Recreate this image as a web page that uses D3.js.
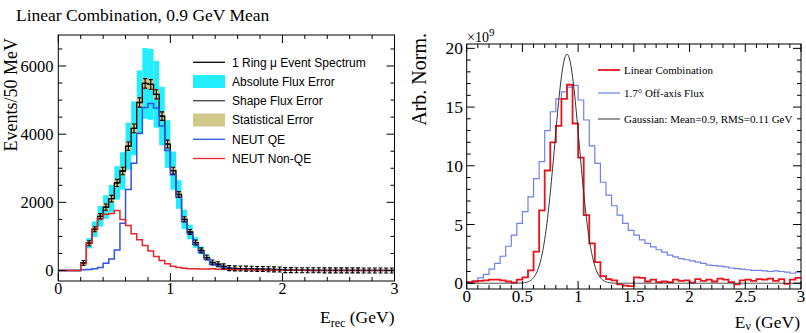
<!DOCTYPE html>
<html><head><meta charset="utf-8">
<script src="https://cdn.jsdelivr.net/npm/d3@7/dist/d3.min.js"></script>
<style>body{margin:0;background:#fff}svg{display:block}</style>
</head><body>
<svg id="c" width="806" height="333"></svg>
<script>
// ---------------- DATA ----------------
const binWidth = 0.05; // GeV, 60 bins from 0 to 3 GeV

// Left panel: Events / 50 MeV
const spectrum = [0,0,0,0,220,800,1210,1590,1860,2110,2570,2920,3650,4170,4930,5490,5460,5170,4530,3710,
  2930,2230,1500,1130,820,590,380,235,185,120,70,62,58,55,50,46,42,38,34,30,
  12,10,9,8,7,6,6,5,5,4,4,3,3,3,2,2,2,2,1,1];
const neutNonQE = [0,0,0,0,200,800,1205,1520,1650,1670,1760,1500,1320,1080,900,735,570,410,295,195,
  125,85,65,55,50,45,45,50,40,35,30,25,20,20,15,15,12,10,10,8,
  5,5,4,4,3,3,3,2,2,2,2,1,1,1,1,1,1,0,0,0];
const neutQE = [0,0,0,0,20,30,50,90,210,340,600,1390,2380,3150,4030,4780,4900,4770,4240,3520,
  2810,2150,1440,1080,770,545,335,185,145,85,40,37,38,35,35,31,30,28,24,22,
  7,5,5,4,4,3,3,3,3,2,2,2,2,2,1,1,1,1,1,1];
const absFluxErr = [0,0,0,0,40,150,230,300,350,400,490,550,690,790,940,1040,1040,980,860,700,
  560,420,285,215,155,112,72,45,35,23,14,12,11,10,10,9,8,7,7,6,
  2,2,2,2,1,1,1,1,1,1,1,1,1,1,0,0,0,0,0,0];
const statErr = [0,0,0,0,30,70,90,100,110,115,125,130,145,155,160,165,165,160,150,135,
  120,105,90,75,65,55,45,35,30,25,20,18,17,16,15,14,13,12,11,10,
  8,7,7,6,6,5,5,5,4,4,4,4,3,3,3,3,3,3,2,2];
const shapeErr = [0,0,0,0,25,55,70,80,90,95,105,110,120,130,135,140,140,135,125,115,
  100,85,75,65,55,45,38,30,25,20,16,15,14,13,12,11,10,10,9,9,
  7,6,6,5,5,5,4,4,4,4,3,3,3,3,3,3,2,2,2,2];

// Right panel: Arb. Norm. (x 10^9)
const linearCombination = [0.1,0.15,0.2,0.25,0.3,0.3,0.25,0.15,0.05,0.3,0.5,1.1,2.7,6.2,9.6,12.0,13.4,15.7,16.9,13.6,
  10.7,5.8,3.4,1.8,0.6,0.35,0.25,-0.1,-0.2,-0.25,0.5,0.45,0.15,0.3,0.1,0.15,0.1,0.3,0.2,0.25,
  0.05,0.35,0.2,0.3,0.15,0.4,0.3,0.1,-0.1,0.25,0.3,0.2,0.35,0.3,0.4,0.2,0.35,-0.05,0.3,0.45];
const offAxisFlux = [0.08,0.2,0.45,0.75,1.2,1.7,2.3,3.15,4.1,5.1,6.1,7.35,8.9,10.35,13.0,14.6,15.7,16.3,16.7,16.85,
  15.6,13.9,11.7,10.2,8.6,7.5,6.6,5.8,5.1,4.5,4.1,3.7,3.4,3.1,2.85,2.65,2.4,2.25,2.1,2.0,
  1.9,1.8,1.7,1.55,1.5,1.45,1.4,1.3,1.25,1.2,1.15,1.1,1.1,1.05,1.0,1.05,1.0,0.95,0.85,0.95];
const gaussMean = 0.9, gaussRms = 0.11, gaussPeak = 19.5;

// Tick labels
const leftXTicks = [0,1,2,3];
const leftYTicks = [0,2000,4000,6000];
const rightXTicks = [0,0.5,1,1.5,2,2.5,3];
const rightXTickLabels = ["0","0.5","1","1.5","2","2.5","3"];
const rightYTicks = [0,5,10,15,20];

const leftLegend = [
  {label:"1 Ring \u03bc Event Spectrum", type:"line", color:"#000"},
  {label:"Absolute Flux Error", type:"box", color:"#22eeff"},
  {label:"Shape Flux Error", type:"line", color:"#444"},
  {label:"Statistical Error", type:"box", color:"#d0c98a"},
  {label:"NEUT QE", type:"line", color:"#2b55e6"},
  {label:"NEUT Non-QE", type:"line", color:"#e8262b"}
];
const rightLegend = [
  {label:"Linear Combination", color:"#e8141c", w:1.8},
  {label:"1.7\u00b0 Off-axis Flux", color:"#6f80ea", w:1.2},
  {label:"Gaussian: Mean=0.9, RMS=0.11 GeV", color:"#333", w:1}
];

// ---------------- DRAWING ----------------
const svg = d3.select("#c");
const serif = "'Liberation Serif','Times New Roman',serif";
const sans = "'Liberation Sans',Arial,sans-serif";

function histPoints(vals){
  const pts = vals.map((v,i)=>[i*binWidth, v]);
  pts.push([vals.length*binWidth, vals[vals.length-1]]);
  return pts;
}
function drawFrame(g, x, y, xMinor, isXMajor, yMinor, isYMajor, majLen, minLen){
  const [x0,x1] = x.range(), [yb,yt] = y.range();
  const t = g.append("g").attr("stroke","#000").attr("stroke-width",1);
  xMinor.forEach(v=>{
    const L = isXMajor(v)?majLen:minLen, px = x(v);
    t.append("line").attr("x1",px).attr("x2",px).attr("y1",yb).attr("y2",yb-L);
    t.append("line").attr("x1",px).attr("x2",px).attr("y1",yt).attr("y2",yt+L);
  });
  yMinor.forEach(v=>{
    const L = isYMajor(v)?majLen:minLen, py = y(v);
    t.append("line").attr("y1",py).attr("y2",py).attr("x1",x0).attr("x2",x0+L);
    t.append("line").attr("y1",py).attr("y2",py).attr("x1",x1).attr("x2",x1-L);
  });
  g.append("rect").attr("x",x0).attr("y",yt).attr("width",x1-x0).attr("height",yb-yt)
    .attr("fill","none").attr("stroke","#000").attr("stroke-width",1);
}

// ===== LEFT PANEL =====
const xL = d3.scaleLinear().domain([0,3]).range([58.3,394.5]);
const yL = d3.scaleLinear().domain([-308,6910]).range([281,35]);
const gL = svg.append("g");
svg.append("clipPath").attr("id","clipL").append("rect")
  .attr("x",xL(0)).attr("y",yL(6910)).attr("width",xL(3)-xL(0)).attr("height",yL(-308)-yL(6910));
const pL = gL.append("g").attr("clip-path","url(#clipL)");

// error boxes
spectrum.forEach((v,i)=>{
  if(v<=0) return;
  const xa = xL(i*binWidth), xb = xL((i+1)*binWidth);
  pL.append("rect").attr("x",xa).attr("width",xb-xa)
    .attr("y",yL(v+absFluxErr[i])).attr("height",yL(v-absFluxErr[i])-yL(v+absFluxErr[i]))
    .attr("fill","#22eeff");
});
spectrum.forEach((v,i)=>{
  if(v<=0) return;
  const xa = xL(i*binWidth), xb = xL((i+1)*binWidth);
  pL.append("rect").attr("x",xa).attr("width",xb-xa)
    .attr("y",yL(v+statErr[i])).attr("height",yL(v-statErr[i])-yL(v+statErr[i]))
    .attr("fill","#d0c98a");
});
const lineL = d3.line().x(d=>xL(d[0])).y(d=>yL(d[1])).curve(d3.curveStepAfter);
pL.append("path").attr("d",lineL(histPoints(spectrum))).attr("fill","none").attr("stroke","#000").attr("stroke-width",1.3);
pL.append("path").attr("d",lineL(histPoints(neutQE))).attr("fill","none").attr("stroke","#2b55e6").attr("stroke-width",1.5);
pL.append("path").attr("d",lineL(histPoints(neutNonQE))).attr("fill","none").attr("stroke","#e8262b").attr("stroke-width",1.5);
// shape flux error bars
const eb = pL.append("g").attr("stroke","#000").attr("stroke-width",1.1);
spectrum.forEach((v,i)=>{
  if(v<=0) return;
  const cx = xL((i+0.5)*binWidth);
  let ya = yL(v+shapeErr[i]), yb = yL(v-shapeErr[i]);
  const cy = yL(v);
  if(yb-ya<5){ ya = cy-2.5; yb = cy+2.5; }
  eb.append("line").attr("x1",cx).attr("x2",cx).attr("y1",ya).attr("y2",yb);
  eb.append("line").attr("x1",cx-2).attr("x2",cx+2).attr("y1",ya).attr("y2",ya);
  eb.append("line").attr("x1",cx-2).attr("x2",cx+2).attr("y1",yb).attr("y2",yb);
  eb.append("line").attr("x1",cx-2).attr("x2",cx+2).attr("y1",cy).attr("y2",cy);
});

drawFrame(gL, xL, yL, d3.range(0,16).map(i=>i*0.2), v=>Math.abs(v-Math.round(v))<1e-6,
  d3.range(0,14).map(i=>i*500), v=>v%2000===0, 8, 4);

leftXTicks.forEach(v=>gL.append("text").attr("x",xL(v)).attr("y",293.5).attr("text-anchor","middle")
  .attr("font-family",serif).attr("font-size",16).text(v));
leftYTicks.forEach(v=>gL.append("text").attr("x",53.5).attr("y",yL(v)).attr("dy","0.35em").attr("text-anchor","end")
  .attr("font-family",serif).attr("font-size",16.5).text(v));

// axis titles
const xtL = gL.append("text").attr("x",xL(3)).attr("y",323).attr("text-anchor","end")
  .attr("font-family",serif).attr("font-size",17.5);
xtL.append("tspan").text("E");
xtL.append("tspan").attr("font-size",12).attr("dy",4).text("rec");
xtL.append("tspan").attr("dy",-4).text(" (GeV)");
gL.append("text").attr("transform","translate(16.5,38) rotate(-90)").attr("text-anchor","end")
  .attr("font-family",serif).attr("font-size",18).text("Events/50 MeV");
gL.append("text").attr("x",16).attr("y",21).attr("font-family",serif).attr("font-size",17.5)
  .text("Linear Combination, 0.9 GeV Mean");

// legend
const legL = gL.append("g");
const legRowsL = [62.3,81.5,100.7,120,139.3,158.5];
leftLegend.forEach((d,i)=>{
  const y = legRowsL[i];
  if(d.type==="box") legL.append("rect").attr("x",193).attr("y",y-6.5).attr("width",32).attr("height",13).attr("fill",d.color);
  else legL.append("line").attr("x1",193).attr("x2",225).attr("y1",y).attr("y2",y).attr("stroke",d.color).attr("stroke-width",1.3);
  legL.append("text").attr("x",232).attr("y",y).attr("dy","0.36em").attr("font-family",sans).attr("font-size",12).text(d.label);
});

// ===== RIGHT PANEL =====
const xR = d3.scaleLinear().domain([0,3]).range([466.7,801]);
const yR = d3.scaleLinear().domain([-0.49,20.37]).range([289,44]);
const gR = svg.append("g");
svg.append("clipPath").attr("id","clipR").append("rect")
  .attr("x",xR(0)).attr("y",yR(20.37)).attr("width",xR(3)-xR(0)).attr("height",yR(-0.49)-yR(20.37));
const pR = gR.append("g").attr("clip-path","url(#clipR)");
const lineR = d3.line().x(d=>xR(d[0])).y(d=>yR(d[1])).curve(d3.curveStepAfter);
const gaussPts = d3.range(0,601).map(i=>{const e=i*0.005; return [e, gaussPeak*Math.exp(-0.5*Math.pow((e-gaussMean)/gaussRms,2))];});
pR.append("path").attr("d",lineR(histPoints(offAxisFlux))).attr("fill","none").attr("stroke","#6f80ea").attr("stroke-width",1.2);
pR.append("path").attr("d",lineR(histPoints(linearCombination))).attr("fill","none").attr("stroke","#e8141c").attr("stroke-width",1.8);
pR.append("path").attr("d",d3.line().x(d=>xR(d[0])).y(d=>yR(d[1]))(gaussPts)).attr("fill","none").attr("stroke","#333").attr("stroke-width",1);

drawFrame(gR, xR, yR, d3.range(0,31).map(i=>i*0.1), v=>Math.abs(v*2-Math.round(v*2))<1e-6,
  d3.range(0,21), v=>v%5===0, 8, 4);

rightXTicks.forEach((v,i)=>gR.append("text").attr("x",xR(v)).attr("y",302).attr("text-anchor","middle")
  .attr("font-family",serif).attr("font-size",17).text(rightXTickLabels[i]));
rightYTicks.forEach(v=>gR.append("text").attr("x",463).attr("y",yR(v)).attr("dy","0.35em").attr("text-anchor","end")
  .attr("font-family",serif).attr("font-size",17.5).text(v));
const mult = gR.append("text").attr("x",467).attr("y",41.5).attr("font-family",serif).attr("font-size",14);
mult.append("tspan").text("\u00d710");
mult.append("tspan").attr("font-size",11).attr("dy",-6).text("9");

const xtR = gR.append("text").attr("x",800).attr("y",327.5).attr("text-anchor","end")
  .attr("font-family",serif).attr("font-size",17.5);
xtR.append("tspan").text("E");
xtR.append("tspan").attr("font-size",12).attr("dy",2.5).text("\u03bd");
xtR.append("tspan").attr("dy",-2.5).text(" (GeV)");
gR.append("text").attr("transform","translate(426,33) rotate(-90)").attr("text-anchor","end")
  .attr("font-family",serif).attr("font-size",20).text("Arb. Norm.");

const legRowsR = [70,93,119];
rightLegend.forEach((d,i)=>{
  const y = legRowsR[i];
  gR.append("line").attr("x1",598).attr("x2",620).attr("y1",y).attr("y2",y).attr("stroke",d.color).attr("stroke-width",d.w);
  gR.append("text").attr("x",624).attr("y",y).attr("dy","0.35em").attr("font-family",serif).attr("font-size",11).text(d.label);
});
</script>
</body></html>
